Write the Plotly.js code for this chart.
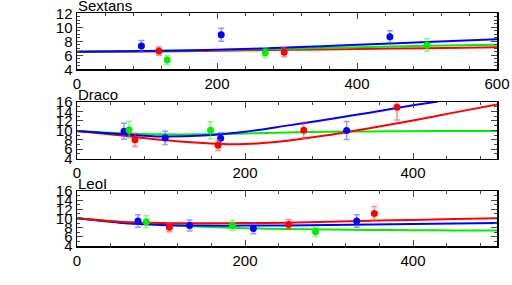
<!DOCTYPE html>
<html>
<head>
<meta charset="utf-8">
<script src="https://cdn.plot.ly/plotly-3.0.1.min.js"></script>
<style>html,body{margin:0;padding:0;background:#fff;}#chart{width:512px;height:285px;}</style>
</head>
<body>
<div id="chart"></div>
<script>
// ---- Panel titles ----
const panelNames = ["Sextans", "Draco", "LeoI"];

// ---- Sextans ----
const sexBlueX = [92, 206, 447];
const sexBlueY = [7.33, 8.95, 8.66];
const sexBlueE = [0.8, 0.93, 0.85];
const sexRedX = [117, 296];
const sexRedY = [6.6, 6.43];
const sexRedE = [0.6, 0.65];
const sexGreenX = [129, 269, 500];
const sexGreenY = [5.33, 6.37, 7.47];
const sexGreenE = [0.65, 0.7, 0.9];
const sexLineX = [0, 100, 200, 300, 400, 500, 600];
const sexBlueLine = [6.5, 6.6, 6.8, 7.1, 7.5, 7.9, 8.3];
const sexGreenLine = [6.5, 6.6, 6.75, 6.95, 7.15, 7.35, 7.5];
const sexRedLine = [6.5, 6.55, 6.65, 6.78, 6.9, 7.02, 7.14];

// ---- Draco ----
const draBlueX = [56, 105, 171, 321];
const draBlueY = [9.8, 8.4, 8.3, 9.95];
const draBlueE = [1.7, 1.4, 1.2, 1.9];
const draRedX = [69, 168, 270, 381];
const draRedY = [8.0, 6.85, 10.0, 14.9];
const draRedE = [1.4, 1.1, 1.7, 2.7];
const draGreenX = [62, 159];
const draGreenY = [10.15, 10.0];
const draGreenE = [1.75, 1.8];
const draBlueLineX = [0, 50, 100, 150, 200, 250, 300, 350, 400, 430];
const draBlueLine = [9.85, 9.25, 8.7, 8.9, 9.7, 11.0, 12.35, 13.8, 15.3, 16.1];
const draRedLineX = [0, 50, 100, 150, 180, 200, 225, 250, 275, 300, 325, 350, 400, 450, 500];
const draRedLine = [9.85, 8.95, 8.0, 7.3, 7.05, 7.1, 7.35, 7.8, 8.4, 9.0, 9.75, 10.5, 12.1, 13.8, 15.5];
const draGreenLineX = [0, 50, 100, 150, 200, 250, 300, 350, 400, 450, 500];
const draGreenLine = [9.85, 9.4, 9.15, 9.15, 9.35, 9.55, 9.7, 9.78, 9.82, 9.85, 9.85];

// ---- LeoI ----
const leoBlueX = [72.6, 134, 210, 333];
const leoBlueY = [9.46, 8.45, 7.8, 9.46];
const leoBlueE = [1.35, 1.2, 1.1, 1.35];
const leoRedX = [110, 252, 354];
const leoRedY = [8.1, 8.7, 11.1];
const leoRedE = [1.0, 1.1, 1.5];
const leoGreenX = [82.5, 185, 284];
const leoGreenY = [9.3, 8.5, 7.1];
const leoGreenE = [1.3, 1.1, 1.0];
const leoLineX = [0, 50, 100, 150, 200, 250, 300, 350, 400, 450, 500];
const leoRedLine = [10.05, 9.3, 9.0, 8.95, 9.0, 9.1, 9.3, 9.5, 9.7, 9.9, 10.05];
const leoBlueLine = [10.05, 9.1, 8.6, 8.45, 8.45, 8.5, 8.6, 8.7, 8.8, 8.9, 9.0];
const leoGreenLine = [10.05, 9.3, 8.7, 8.2, 7.9, 7.7, 7.6, 7.5, 7.45, 7.4, 7.4];

const BLUE = "#0000ff", RED = "#ff0000", GREEN = "#00ee00";
const BLUE_E = "rgba(80,80,255,0.6)", RED_E = "rgba(255,60,60,0.6)", GREEN_E = "rgba(60,240,60,0.6)";

function pts(x, y, e, c, ec, ax) {
  return {x: x, y: y, type: "scatter", mode: "markers", xaxis: "x" + ax, yaxis: "y" + ax,
    marker: {color: c, size: 7},
    error_y: {type: "data", array: e, visible: true, color: ec, thickness: 1.5, width: 3},
    showlegend: false, hoverinfo: "skip"};
}
function line(x, y, c, ax) {
  return {x: x, y: y, type: "scatter", mode: "lines", xaxis: "x" + ax, yaxis: "y" + ax,
    line: {color: c, width: 2, shape: "spline", smoothing: 0.8},
    showlegend: false, hoverinfo: "skip"};
}

const traces = [
  line(sexLineX, sexRedLine, RED, ""), line(sexLineX, sexGreenLine, GREEN, ""), line(sexLineX, sexBlueLine, BLUE, ""),
  pts(sexBlueX, sexBlueY, sexBlueE, BLUE, BLUE_E, ""), pts(sexRedX, sexRedY, sexRedE, RED, RED_E, ""), pts(sexGreenX, sexGreenY, sexGreenE, GREEN, GREEN_E, ""),
  line(draGreenLineX, draGreenLine, GREEN, "2"), line(draRedLineX, draRedLine, RED, "2"), line(draBlueLineX, draBlueLine, BLUE, "2"),
  pts(draBlueX, draBlueY, draBlueE, BLUE, BLUE_E, "2"), pts(draRedX, draRedY, draRedE, RED, RED_E, "2"), pts(draGreenX, draGreenY, draGreenE, GREEN, GREEN_E, "2"),
  line(leoLineX, leoGreenLine, GREEN, "3"), line(leoLineX, leoBlueLine, BLUE, "3"), line(leoLineX, leoRedLine, RED, "3"),
  pts(leoBlueX, leoBlueY, leoBlueE, BLUE, BLUE_E, "3"), pts(leoRedX, leoRedY, leoRedE, RED, RED_E, "3"), pts(leoGreenX, leoGreenY, leoGreenE, GREEN, GREEN_E, "3")
];

const font = {family: "Liberation Sans, Arial, sans-serif", size: 15, color: "#000"};
function xax(range, dom) {
  return {range: range, domain: [0, 1], anchor: dom, dtick: 200, tick0: 0, ticks: "inside", ticklen: 6, tickwidth: 1,
    minor: {dtick: 40, ticks: "inside", ticklen: 3, tickwidth: 1, showgrid: false},
    showline: true, linecolor: "#000", linewidth: 1.5, mirror: "allticks", showgrid: false, zeroline: false,
    tickfont: font, fixedrange: true};
}
function yax(range, dom, anchor, minorStep) {
  return {range: range, domain: dom, anchor: anchor, dtick: 2, tick0: 0, ticks: "inside", ticklen: 6, tickwidth: 1,
    minor: {dtick: minorStep, ticks: "inside", ticklen: 3, tickwidth: 1, showgrid: false},
    showline: true, linecolor: "#000", linewidth: 1.5, mirror: "allticks", showgrid: false, zeroline: false,
    tickfont: font, fixedrange: true};
}

const d1 = [0.7568, 0.9533], d2 = [0.4432, 0.6421], d3 = [0.1368, 0.3298];
function title(t, dom) {
  return {text: t, xref: "paper", yref: "paper", x: 0, y: dom[1], xanchor: "left", yanchor: "bottom",
    yshift: -2, showarrow: false, font: font, borderpad: 0};
}
const layout = {
  width: 512, height: 285, margin: {l: 77, r: 15, t: 0, b: 0},
  paper_bgcolor: "#fff", plot_bgcolor: "#fff", showlegend: false, font: font,
  xaxis: xax([0, 600], "y"), yaxis: yax([4, 12], d1, "x", 0.5),
  xaxis2: xax([0, 500], "y2"), yaxis2: yax([4, 16], d2, "x2", 1),
  xaxis3: xax([0, 500], "y3"), yaxis3: yax([4, 16], d3, "x3", 1),
  annotations: [title(panelNames[0], d1), title(panelNames[1], d2), title(panelNames[2], d3)]
};
Plotly.newPlot("chart", traces, layout, {staticPlot: true, displayModeBar: false});
</script>
</body>
</html>
